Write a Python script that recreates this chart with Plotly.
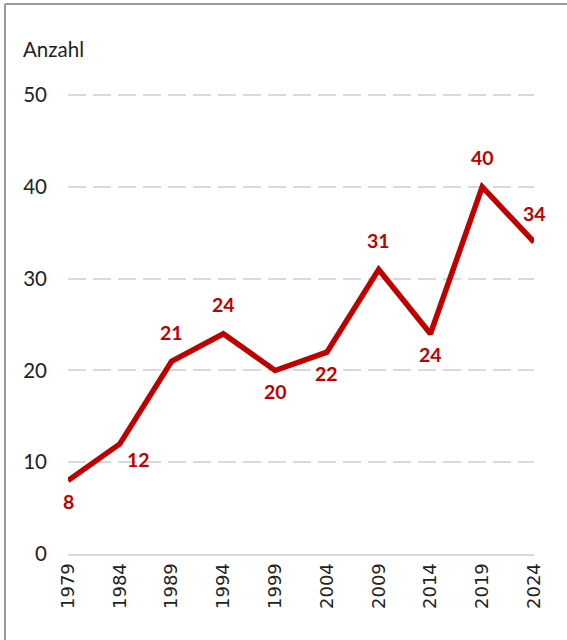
import plotly.graph_objects as go

years = [1979, 1984, 1989, 1994, 1999, 2004, 2009, 2014, 2019, 2024]
counts = [8, 12, 21, 24, 20, 22, 31, 24, 40, 34]
label_pos = ["below", "below right", "above", "above", "below",
             "below", "above", "below", "above", "above"]
y_ticks = [0, 10, 20, 30, 40, 50]

RED = "#C00000"
W, H = 567, 640
L, R, T, B = 68, 33, 86, 86
pw, ph = W - L - R, H - T - B

# pixel shifts for the point labels
shifts = {"above": (0, 29), "below": (0, -21), "below right": (19, -16)}

fig = go.Figure()
fig.add_trace(go.Scatter(
    x=years, y=counts,
    mode="lines",
    line=dict(color=RED, width=5.5),
    hoverinfo="x+y",
))

annotations = []
for x, y, pos in zip(years, counts, label_pos):
    dx, dy = shifts[pos]
    annotations.append(dict(
        x=x, y=y, text=str(y), showarrow=False,
        xshift=dx, yshift=dy,
        font=dict(family="Lato", size=19.5, color=RED, weight="bold"),
    ))

annotations.append(dict(
    text="Anzahl", xref="paper", yref="paper",
    x=(21 - L) / pw, y=(H - B - 49) / ph,
    xanchor="left", yanchor="middle", showarrow=False,
    font=dict(family="Lato", size=20.5, color="#222"),
))

fig.update_layout(
    width=W, height=H,
    margin=dict(l=L, r=R, t=T, b=B, autoexpand=False),
    plot_bgcolor="white",
    paper_bgcolor="white",
    showlegend=False,
    xaxis=dict(
        range=[1979, 2024],
        tickmode="array", tickvals=years, ticktext=[str(y) for y in years],
        tickangle=-90,
        tickfont=dict(family="DejaVu Sans", size=18, color="#222"),
        showgrid=False, zeroline=False,
        showline=True, linecolor="#d9d9d9", linewidth=2,
        ticks="", automargin=False,
    ),
    yaxis=dict(
        range=[0, 51],
        tickvals=y_ticks,
        tickfont=dict(family="Lato", size=20.5, color="#222"),
        showgrid=True, gridcolor="#d9d9d9", gridwidth=2, griddash="18px,7px",
        zeroline=False, showline=False,
        ticklabelstandoff=20, automargin=False,
    ),
    annotations=annotations,
    shapes=[
        dict(type="line", xref="paper", yref="paper",
             x0=(5 - L) / pw, x1=(W - L) / pw,
             y0=(H - B - 4) / ph, y1=(H - B - 4) / ph,
             line=dict(color="#9a9a9a", width=2)),
        dict(type="line", xref="paper", yref="paper",
             x0=(5 - L) / pw, x1=(5 - L) / pw,
             y0=(H - B - 4) / ph, y1=(H - B - H) / ph,
             line=dict(color="#9a9a9a", width=2)),
    ],
)

# page has a default 8px body margin; drop it so the figure sits at 0,0
fig.write_html("out.html", config={"displayModeBar": False},
               post_script="document.body.style.margin='0';")
